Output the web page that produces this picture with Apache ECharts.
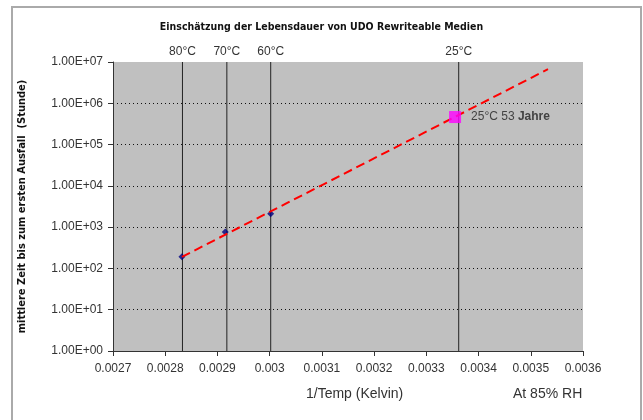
<!DOCTYPE html>
<html><head><meta charset="utf-8">
<script src="https://cdn.jsdelivr.net/npm/echarts@6/dist/echarts.min.js"></script>
<style>html,body{margin:0;padding:0;background:#fff}#c{width:643px;height:420px}</style>
</head><body><div id="c"></div>
<script>
// Data
var tempLabels = ['80°C', '70°C', '60°C', '25°C'];
var tempLineX = [0.002833, 0.002918, 0.003002, 0.003362];
var measuredX = [0.002832, 0.002915, 0.003002];
var measuredHours = [192, 760, 2100];
var predictX = [0.003355];
var predictHours = [464280];
var trendX = [0.002832, 0.003533];
var trendHours = [190, 6700000];
var xTicks = [0.0027, 0.0036, 0.0001];
var yRange = [1, 10000000];

var chart = echarts.init(document.getElementById('c'));
var font = 'Liberation Sans, Arial, sans-serif';
var cond = 'Liberation Sans Narrow, DejaVu Sans Condensed, sans-serif';
function zip(a, b) { return a.map(function (v, i) { return [v, b[i]]; }); }

var tempSeries = tempLineX.map(function (x, i) {
  return {
    type: 'line', silent: true, z: 2, showSymbol: true, symbol: 'circle', symbolSize: 0,
    lineStyle: { color: '#222', width: 1 },
    data: [
      { value: [x, yRange[0]] },
      { value: [x, yRange[1]], label: { show: true, position: 'top', distance: 4,
          formatter: tempLabels[i], fontFamily: font, fontSize: 12, color: '#333' } }
    ]
  };
});

chart.setOption({
  animation: false,
  backgroundColor: '#fff',
  title: {
    text: 'Einschätzung der Lebensdauer von UDO Rewriteable Medien',
    left: 'center', top: 17,
    textStyle: { fontFamily: cond, fontSize: 10.5, fontWeight: 'bold', color: '#111' }
  },
  grid: { left: 113, right: 60, top: 62, bottom: 69, show: true, backgroundColor: '#c0c0c0', borderWidth: 0 },
  xAxis: {
    type: 'value', min: xTicks[0], max: xTicks[1], interval: xTicks[2],
    axisLine: { show: true, onZero: false, lineStyle: { color: '#333', width: 1 } },
    axisTick: { show: true, inside: false, length: 5, lineStyle: { color: '#333' } },
    axisLabel: { fontFamily: font, fontSize: 12, color: '#333', margin: 12,
      formatter: function (v) { return String(Number(v.toFixed(4))); } },
    splitLine: { show: false }
  },
  yAxis: {
    type: 'log', logBase: 10, min: yRange[0], max: yRange[1], splitNumber: 7,
    name: 'mittlere Zeit bis zum ersten Ausfall  (Stunde)',
    nameLocation: 'middle', nameRotate: 90, nameGap: 85,
    nameTextStyle: { fontFamily: cond, fontSize: 11, fontWeight: 'bold', color: '#111' },
    axisLine: { show: true, lineStyle: { color: '#333', width: 1 } },
    axisTick: { show: true, inside: false, length: 5, lineStyle: { color: '#333' } },
    axisLabel: { fontFamily: font, fontSize: 12, color: '#333', margin: 10,
      formatter: function (v) { var e = Math.round(Math.log10(v)); return '1.00E+' + (e < 10 ? '0' : '') + e; } },
    splitLine: { show: true, showMinLine: false, showMaxLine: false, lineStyle: { color: '#111', type: [1, 3], width: 1 } }
  },
  series: tempSeries.concat([
    {
      type: 'scatter', data: zip(measuredX, measuredHours), symbol: 'diamond', symbolSize: 7,
      itemStyle: { color: '#000080' }, z: 3
    },
    {
      type: 'line', data: zip(trendX, trendHours), symbol: 'none',
      lineStyle: { color: '#ff0000', width: 2, type: [9, 5] }, z: 4
    },
    {
      type: 'scatter', data: zip(predictX, predictHours), symbol: 'rect', symbolSize: 12,
      itemStyle: { color: '#ff00ff' }, z: 5,
      label: { show: true, position: 'right', distance: 10,
        formatter: '{a|25°C 53 }{b|Jahre}',
        rich: { a: { fontFamily: font, fontSize: 12, color: '#222' }, b: { fontFamily: font, fontSize: 12, fontWeight: 'bold', color: '#222' } } }
    }
  ]),
  graphic: [
    { type: 'rect', shape: { x: 12, y: 7, width: 629, height: 430 }, style: { fill: 'none', stroke: '#aaa', lineWidth: 2 }, silent: true },
    { type: 'text', left: 306, top: 387, style: { text: '1/Temp (Kelvin)', font: '14px ' + font, fill: '#333' } },
    { type: 'text', left: 513, top: 387, style: { text: 'At 85% RH', font: '14px ' + font, fill: '#333' } }
  ]
});
</script></body></html>
